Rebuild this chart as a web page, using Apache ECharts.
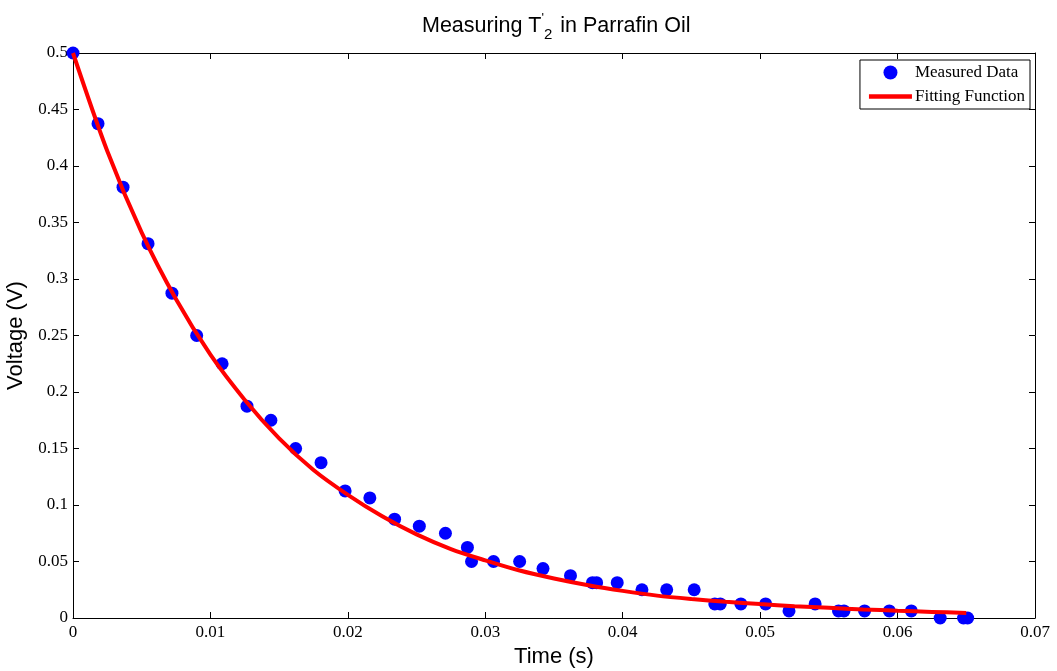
<!DOCTYPE html>
<html>
<head>
<meta charset="utf-8">
<script src="https://cdn.jsdelivr.net/npm/echarts@6/dist/echarts.min.js"></script>
<style>html,body{margin:0;padding:0;background:#fff;}#c{width:1057px;height:671px;}</style>
</head>
<body>
<div id="c"></div>
<script>
// Measured data (time in s, voltage in V)
const measuredTime = [0, 0.00182, 0.00364, 0.00546, 0.0072, 0.0090, 0.01085, 0.01266, 0.0144, 0.0162,
  0.01805, 0.0198, 0.0216, 0.0234, 0.0252, 0.0271, 0.0287, 0.0290, 0.0306, 0.0325,
  0.0342, 0.0362, 0.0378, 0.0381, 0.0396, 0.0414, 0.0432, 0.0452, 0.0467, 0.0471,
  0.0486, 0.0504, 0.0521, 0.0540, 0.0557, 0.0561, 0.0576, 0.0594, 0.0610, 0.0631,
  0.0648, 0.0651];
const measuredVoltage = [0.5, 0.4375, 0.38125, 0.33125, 0.2875, 0.25, 0.225, 0.1875, 0.175, 0.15,
  0.1375, 0.1125, 0.10625, 0.0875, 0.08125, 0.075, 0.0625, 0.05, 0.05, 0.05,
  0.04375, 0.0375, 0.03125, 0.03125, 0.03125, 0.025, 0.025, 0.025, 0.0125, 0.0125,
  0.0125, 0.0125, 0.00625, 0.0125, 0.00625, 0.00625, 0.00625, 0.00625, 0.00625, 0,
  0, 0];
// Fitting function
const fitTime = [0, 0.0025, 0.005, 0.0075, 0.01, 0.0125, 0.015, 0.0175, 0.02, 0.0225,
  0.025, 0.0275, 0.03, 0.0325, 0.035, 0.0375, 0.04, 0.0425, 0.045, 0.0475,
  0.05, 0.0525, 0.055, 0.0575, 0.06, 0.0625, 0.065];
const fitVoltage = [0.5, 0.413, 0.341, 0.282, 0.233, 0.193, 0.159, 0.131, 0.109, 0.090,
  0.074, 0.061, 0.051, 0.042, 0.035, 0.029, 0.024, 0.0198, 0.0168, 0.0143,
  0.0123, 0.0105, 0.009, 0.0076, 0.0064, 0.0054, 0.0045];
const xTickLabels = ['0', '0.01', '0.02', '0.03', '0.04', '0.05', '0.06', '0.07'];
const yTickLabels = ['0', '0.05', '0.1', '0.15', '0.2', '0.25', '0.3', '0.35', '0.4', '0.45', '0.5'];

const serif = '"Liberation Serif","DejaVu Serif",serif';
const sans = '"Liberation Sans",Arial,sans-serif';

const chart = echarts.init(document.getElementById('c'), null, {renderer: 'canvas'});
const axisCommon = {
  axisLine: {show: true, onZero: false, lineStyle: {color: '#000', width: 1}},
  axisTick: {show: true, inside: true, length: 6, lineStyle: {color: '#000', width: 1}},
  splitLine: {show: false}
};
chart.setOption({
  animation: false,
  backgroundColor: '#fff',
  title: {
    text: '{a|Measuring T}{p|\'}{s|2}{a| in Parrafin Oil}',
    left: 417, top: 5,
    textStyle: {
      fontWeight: 'normal',
      rich: {
        a: {fontFamily: sans, fontSize: 21.5, fontWeight: 'normal', color: '#000', lineHeight: 30},
        p: {fontFamily: sans, fontSize: 13, fontWeight: 'normal', color: '#000', padding: [0, 0, 15, 0]},
        s: {fontFamily: sans, fontSize: 15, fontWeight: 'normal', color: '#000', padding: [17, 2, 0, 0]}
      }
    }
  },
  legend: {
    orient: 'vertical', right: 27, top: 60,
    backgroundColor: '#fff', borderColor: '#000', borderWidth: 1,
    padding: [4, 5, 4, 9],
    itemWidth: 43, itemHeight: 14, itemGap: 7,
    textStyle: {fontFamily: serif, fontSize: 17, color: '#000', padding: [0, 0, 0, -2]},
    data: [
      {name: 'Measured Data', icon: 'circle'},
      {name: 'Fitting Function', icon: 'path://M0,0 L40,0 L40,4 L0,4 Z'}
    ]
  },
  grid: {left: 73, right: 22, top: 53, bottom: 53, containLabel: false, outerBoundsMode: 'none'},
  xAxis: [
    Object.assign({}, axisCommon, {
      type: 'value', min: 0, max: 0.07, interval: 0.01, position: 'bottom',
      name: 'Time (s)', nameLocation: 'middle', nameGap: 24,
      nameTextStyle: {fontFamily: sans, fontSize: 22, color: '#000'},
      axisLabel: {fontFamily: serif, fontSize: 17, color: '#000', margin: 6,
        formatter: (v) => xTickLabels[Math.round(v / 0.01)] ?? ''}
    }),
    Object.assign({}, axisCommon, {
      type: 'value', min: 0, max: 0.07, interval: 0.01, position: 'top',
      axisLabel: {show: false}
    })
  ],
  yAxis: [
    Object.assign({}, axisCommon, {
      type: 'value', min: 0, max: 0.5, interval: 0.05, position: 'left',
      name: 'Voltage (V)', nameLocation: 'middle', nameGap: 38,
      nameTextStyle: {fontFamily: sans, fontSize: 22, color: '#000'},
      axisLabel: {fontFamily: serif, fontSize: 17, color: '#000', margin: 5,
        formatter: (v) => yTickLabels[Math.round(v / 0.05)] ?? ''}
    }),
    Object.assign({}, axisCommon, {
      type: 'value', min: 0, max: 0.5, interval: 0.05, position: 'right',
      axisLabel: {show: false}
    })
  ],
  series: [
    {
      name: 'Measured Data', type: 'scatter', xAxisIndex: 0, yAxisIndex: 0,
      symbol: 'circle', symbolSize: 13,
      itemStyle: {color: '#0000ff', opacity: 1},
      data: measuredTime.map((t, i) => [t, measuredVoltage[i]]),
      z: 2
    },
    {
      name: 'Fitting Function', type: 'line', xAxisIndex: 0, yAxisIndex: 0,
      showSymbol: false, symbol: 'none', smooth: 0.3,
      lineStyle: {color: '#ff0000', width: 4},
      itemStyle: {color: '#ff0000'},
      data: fitTime.map((t, i) => [t, fitVoltage[i]]),
      z: 3
    }
  ]
});
</script>
</body>
</html>
